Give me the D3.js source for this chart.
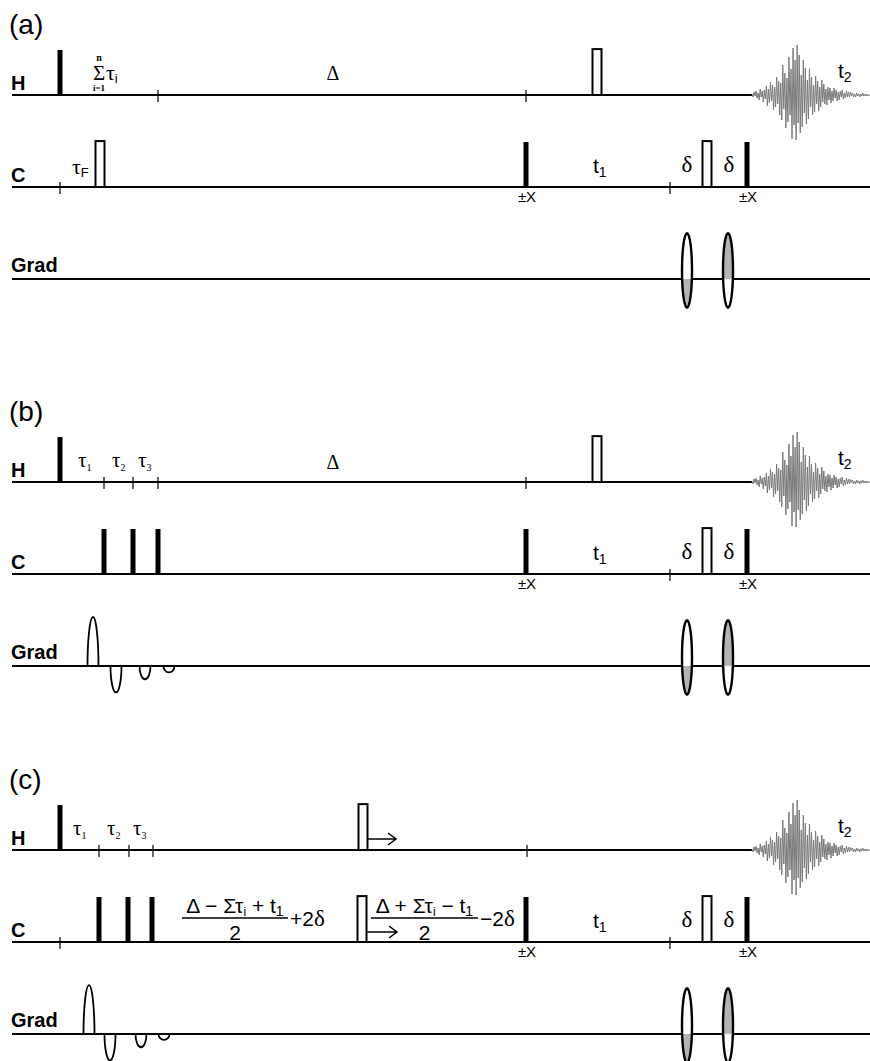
<!DOCTYPE html>
<html><head><meta charset="utf-8">
<script src="https://cdn.jsdelivr.net/npm/d3@7"></script>
<style>body{margin:0;background:#fff} svg{display:block}</style>
</head><body><svg id="chart" width="870" height="1061"></svg>
<script>
// ---------- data (time positions on a common sequence time axis, arbitrary units) ----------
const panelIds = ["a", "b", "c"];
const panelLabels = ["(a)", "(b)", "(c)"];
const channels = ["H", "C", "Grad"];

// hard 90° pulses (filled)
const hardPulses = [
  {p:"a", ch:"H", t:48}, {p:"a", ch:"C", t:514}, {p:"a", ch:"C", t:735},
  {p:"b", ch:"H", t:48}, {p:"b", ch:"C", t:92}, {p:"b", ch:"C", t:121}, {p:"b", ch:"C", t:146},
  {p:"b", ch:"C", t:514}, {p:"b", ch:"C", t:735},
  {p:"c", ch:"H", t:48}, {p:"c", ch:"C", t:87}, {p:"c", ch:"C", t:116}, {p:"c", ch:"C", t:140},
  {p:"c", ch:"C", t:514}, {p:"c", ch:"C", t:735}
];
// 180° pulses (open)
const invPulses = [
  {p:"a", ch:"H", t:585}, {p:"a", ch:"C", t:88}, {p:"a", ch:"C", t:695},
  {p:"b", ch:"H", t:585}, {p:"b", ch:"C", t:695},
  {p:"c", ch:"H", t:351}, {p:"c", ch:"C", t:350}, {p:"c", ch:"C", t:695}
];
// delay markers (ticks)
const ticks = [
  {p:"a", ch:"H", t:146}, {p:"a", ch:"H", t:514}, {p:"a", ch:"C", t:48}, {p:"a", ch:"C", t:658},
  {p:"b", ch:"H", t:92}, {p:"b", ch:"H", t:121}, {p:"b", ch:"H", t:146}, {p:"b", ch:"H", t:514}, {p:"b", ch:"C", t:658},
  {p:"c", ch:"H", t:87}, {p:"c", ch:"H", t:117}, {p:"c", ch:"H", t:141}, {p:"c", ch:"H", t:515},
  {p:"c", ch:"C", t:48}, {p:"c", ch:"C", t:658}
];
// unipolar gradient lobes (relative amplitude)
const gradLobes = [
  {p:"b", t:81, a:1.0}, {p:"b", t:104, a:-0.54}, {p:"b", t:133, a:-0.27}, {p:"b", t:157, a:-0.13},
  {p:"c", t:77, a:1.0}, {p:"c", t:98, a:-0.54}, {p:"c", t:129, a:-0.27}, {p:"c", t:152, a:-0.12}
];
// bipolar (shaped) gradient pulses; shade = which half is grey
const gradPairs = [
  {t:675, shade:"below"}, {t:716, shade:"above"}
];
// phase-cycled pulses (±X)
const phaseMarks = [514, 735];
const fidStart = 740, fidEnd = 858;
const fidValues = [
  1,-2,3,-1,4,-3,2,-5,6,-2,4,-7,5,
  -4,9,-11,6,-8,13,-6,10,-15,8,-12,18,-9,14,-20,
  12,-25,30,-14,22,-33,17,-27,38,-20,
  26,-44,47,-30,35,-45,50,-28,40,-38,
  20,-32,35,-18,27,-29,15,-24,26,-12,18,-20,
  10,-17,19,-9,14,-16,8,-12,15,-7,11,-9,6,-10,8,-5,7,
  -8,4,-6,7,-3,5,-6,3,-5,4,-2,5,-4,2,-3,4,-2,3,-2,
  3,-1,2,-2,1,-2,2,-1,1,-2,1,-1,2,-1,1,-1,1,-1,0,0
];
// tau delays labels
const tauLabels = [
  {p:"b", t:[66, 100, 126]},
  {p:"c", t:[61, 95, 121]}
];

// ---------- scales ----------
const SANS = "'Liberation Sans', Arial, Helvetica, sans-serif";
const SERIF = "'Liberation Serif', 'Times New Roman', serif";
const svg = d3.select("#chart");
const x = d3.scaleLinear().domain([0, 858]).range([12, 870]);
const panelY = d3.scaleOrdinal(panelIds, [95, 482, 850]);
const chanOff = d3.scaleOrdinal(channels, [0, 92, 184]);
const lineY = (p, ch) => panelY(p) + chanOff(ch);
const pulseH = d3.scaleLinear().domain([0, 1]).range([0, 45]);
const gradA = d3.scaleLinear().domain([0, 1]).range([0, 49]);
const fidX = d3.scaleLinear().domain([0, fidValues.length - 1]).range([x(fidStart), x(fidEnd)]);
const fidY = d3.scaleLinear().domain([-50, 50]).range([50, -50]);

function txt(xx, yy, parts, anchor) {
  const t = svg.append("text").attr("x", xx).attr("y", yy).attr("text-anchor", anchor || "start").attr("fill", "#000");
  parts.forEach(pt => {
    t.append("tspan").text(pt.s).attr("font-family", pt.f || SANS).attr("font-size", pt.z)
      .attr("dy", pt.dy || 0).attr("font-weight", pt.w || "normal");
  });
  return t;
}

const defs = svg.append("defs");

// ---------- channel lines & labels ----------
panelIds.forEach((p, i) => {
  txt(9, panelY(p) - 61, [{s: panelLabels[i], z: 28}]);
  channels.forEach(ch => {
    const y = lineY(p, ch);
    const xEnd = ch === "H" ? x(fidStart) : x(858);
    svg.append("line").attr("x1", 12).attr("x2", xEnd).attr("y1", y).attr("y2", y)
      .attr("stroke", "#000").attr("stroke-width", 2.2);
    const off = ch === "Grad" ? 7 : 5;
    txt(11, y - off, [{s: ch, z: 20, w: "bold"}]);
  });
  // FID
  const y0 = lineY(p, "H");
  svg.append("path").datum(fidValues)
    .attr("d", d3.line().x((d, j) => fidX(j)).y(d => y0 + fidY(d)))
    .attr("fill", "none").attr("stroke", "#7a7a7a").attr("stroke-width", 1);
  txt(x(826), y0 - 17, [{s: "t", z: 21}, {s: "2", z: 14, dy: 4}]);
  // C-channel common parts: t1, deltas, ±X
  const yc = lineY(p, "C");
  txt(x(581), yc - 14, [{s: "t", z: 21}, {s: "1", z: 14, dy: 4}]);
  txt(x(675), yc - 15, [{s: "δ", z: 23, f: SERIF}], "middle");
  txt(x(717), yc - 15, [{s: "δ", z: 23, f: SERIF}], "middle");
  phaseMarks.forEach(t => txt(x(t) + 1, yc + 15, [{s: "±X", z: 15}], "middle"));
  // bipolar gradients
  const yg = lineY(p, "Grad");
  gradPairs.forEach((g, k) => {
    const cx = x(g.t), cy = yg - 8.5, ry = gradA(0.76), rx = 5;
    const cid = `clip-${p}-${k}`;
    defs.append("clipPath").attr("id", cid).append("rect")
      .attr("x", cx - 10).attr("width", 20)
      .attr("y", g.shade === "below" ? yg : cy - ry - 5)
      .attr("height", g.shade === "below" ? ry + 10 : yg - (cy - ry - 5));
    svg.append("ellipse").attr("cx", cx).attr("cy", cy).attr("rx", rx).attr("ry", ry).attr("fill", "#fff");
    svg.append("ellipse").attr("cx", cx).attr("cy", cy).attr("rx", rx).attr("ry", ry)
      .attr("fill", "#b4b4b4").attr("clip-path", `url(#${cid})`);
    svg.append("ellipse").attr("cx", cx).attr("cy", cy).attr("rx", rx).attr("ry", ry)
      .attr("fill", "none").attr("stroke", "#000").attr("stroke-width", 2.4);
  });
});

// ---------- ticks ----------
svg.selectAll("line.tick").data(ticks).join("line").attr("class", "tick")
  .attr("x1", d => x(d.t)).attr("x2", d => x(d.t))
  .attr("y1", d => lineY(d.p, d.ch) - 5).attr("y2", d => lineY(d.p, d.ch) + 7)
  .attr("stroke", "#000").attr("stroke-width", 1.2);

// ---------- pulses ----------
svg.selectAll("rect.hard").data(hardPulses).join("rect").attr("class", "hard")
  .attr("x", d => x(d.t) - 2.5).attr("width", 5)
  .attr("y", d => lineY(d.p, d.ch) - pulseH(1)).attr("height", pulseH(1))
  .attr("fill", "#000");
svg.selectAll("rect.inv").data(invPulses).join("rect").attr("class", "inv")
  .attr("x", d => x(d.t) - 4.5).attr("width", 9)
  .attr("y", d => lineY(d.p, d.ch) - pulseH(1.02)).attr("height", pulseH(1.02))
  .attr("fill", "#fff").attr("stroke", "#000").attr("stroke-width", 2);

// ---------- unipolar gradient lobes ----------
svg.selectAll("path.lobe").data(gradLobes).join("path").attr("class", "lobe")
  .attr("d", d => {
    const y0 = lineY(d.p, "Grad"), cx = x(d.t), w = 5.5, h = gradA(Math.abs(d.a));
    return `M${cx - w},${y0} A${w},${h} 0 0 ${d.a > 0 ? 1 : 0} ${cx + w},${y0}`;
  })
  .attr("fill", "none").attr("stroke", "#000").attr("stroke-width", 1.8);

// ---------- panel-specific annotations ----------
// (a) H: sum of tau_i and Delta; C: tau_F
{
  const yh = lineY("a", "H"), yc = lineY("a", "C");
  txt(99, yh - 34, [{s: "n", z: 10, f: SERIF, w: "bold"}], "middle");
  txt(99, yh - 15, [{s: "Σ", z: 21, f: SERIF}], "middle");
  txt(99, yh - 4, [{s: "i=1", z: 9, f: SERIF, w: "bold"}], "middle");
  txt(106, yh - 15, [{s: "τ", z: 22, f: SERIF}, {s: "i", z: 13, dy: 3}]);
  txt(x(321), yh - 15, [{s: "Δ", z: 20, f: SERIF}], "middle");
  txt(72, yc - 13, [{s: "τ", z: 22, f: SERIF}, {s: "F", z: 13, dy: 3}]);
}
// (b), (c) tau labels
tauLabels.forEach(tl => {
  const yh = lineY(tl.p, "H");
  tl.t.forEach((t, k) => txt(x(t), yh - 15, [{s: "τ", z: 21, f: SERIF}, {s: String(k + 1), z: 10, f: SERIF, dy: 4}]));
});
txt(x(321), lineY("b", "H") - 13, [{s: "Δ", z: 20, f: SERIF}], "middle");

// (c) arrows and delay formulas
function arrow(x1, x2, y) {
  svg.append("path").attr("d", `M${x1},${y} L${x2},${y} M${x2 - 8},${y - 6} L${x2},${y} L${x2 - 8},${y + 6}`)
    .attr("fill", "none").attr("stroke", "#000").attr("stroke-width", 1.5);
}
{
  const yh = lineY("c", "H"), yc = lineY("c", "C");
  arrow(x(355), x(384), yh - 11);
  arrow(x(355), x(385), yc - 10);
  function frac(xl, xr, numParts, tailParts) {
    const bar = yc - 24;
    txt((xl + xr) / 2, bar - 5, numParts, "middle");
    svg.append("line").attr("x1", xl).attr("x2", xr).attr("y1", bar).attr("y2", bar)
      .attr("stroke", "#000").attr("stroke-width", 1.4);
    txt((xl + xr) / 2, yc - 2, [{s: "2", z: 21}], "middle");
    txt(xr + 2, yc - 16, tailParts);
  }
  frac(182, 288,
    [{s: "Δ − Στ", z: 21}, {s: "i", z: 12, dy: 3}, {s: " + t", z: 21, dy: -3}, {s: "1", z: 14, dy: 3}],
    [{s: "+2", z: 21}, {s: "δ", z: 23, f: SERIF}]);
  frac(371, 478,
    [{s: "Δ + Στ", z: 21}, {s: "i", z: 12, dy: 3}, {s: " − t", z: 21, dy: -3}, {s: "1", z: 14, dy: 3}],
    [{s: "−2", z: 21}, {s: "δ", z: 23, f: SERIF}]);
}
</script>
</body></html>
